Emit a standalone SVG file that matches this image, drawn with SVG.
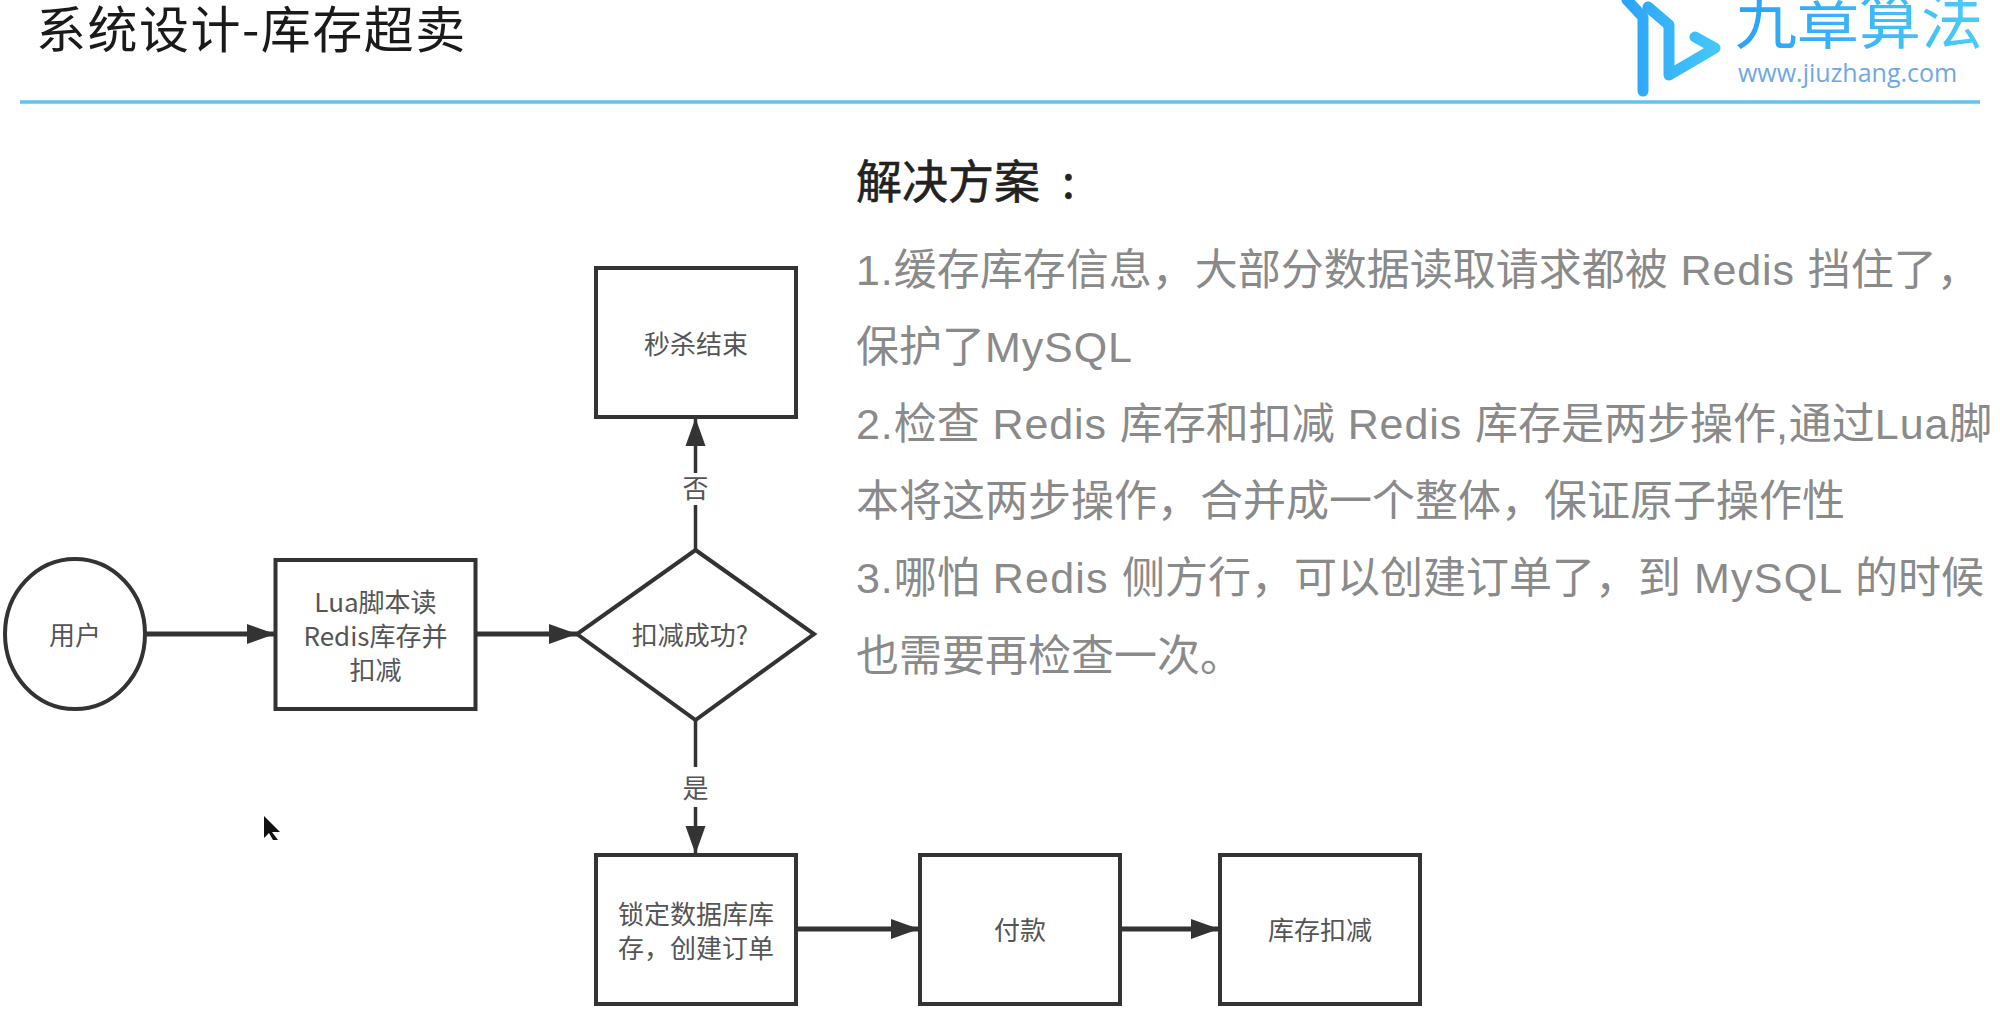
<svg xmlns="http://www.w3.org/2000/svg" width="2000" height="1025" viewBox="0 0 2000 1025">
<style>
.n{font-family:"Noto Sans CJK SC","Liberation Sans",sans-serif;font-size:26px;fill:#555;text-anchor:middle}
.b{fill:#fff;stroke:#333;stroke-width:4}
.h{fill:none;stroke:#333;stroke-width:5}
.v{fill:none;stroke:#333;stroke-width:3.500}
.t{font-family:"Liberation Sans","Noto Sans CJK SC",sans-serif;font-size:43px;fill:#8a8a8a;letter-spacing:0}
.l{letter-spacing:.9px}
.m{letter-spacing:1.200px}
</style>
<defs>
<marker id="a" markerUnits="userSpaceOnUse" markerWidth="30" markerHeight="24" refX="28" refY="11" orient="auto"><path d="M0 1L28 11L0 21Z" fill="#333"/></marker>
<linearGradient id="g" x1="0" y1="0" x2="1" y2="0"><stop offset="0" stop-color="#2aa2f8"/><stop offset="1" stop-color="#4cccf6"/></linearGradient>
<linearGradient id="g2" gradientUnits="userSpaceOnUse" x1="1620" y1="0" x2="1720" y2="0"><stop offset="0" stop-color="#2aa2f8"/><stop offset="1" stop-color="#45c8fa"/></linearGradient>
</defs>
<rect width="2000" height="1025" fill="#fff"/>
<g id="header">
<text x="36" y="48" font-family="'Noto Sans CJK SC',sans-serif" font-size="50" letter-spacing="1.500" fill="#1a1a1a">系统设计-库存超卖</text>
<line x1="20" y1="102" x2="1980" y2="102" stroke="#5cc6f2" stroke-width="3.500"/>
<path d="M1627 0L1643 17V91" fill="none" stroke="url(#g2)" stroke-width="11" stroke-linecap="round" stroke-linejoin="round"/>
<path d="M1648 7L1669 25V75L1715 48L1695 37" fill="none" stroke="url(#g2)" stroke-width="11" stroke-linecap="round" stroke-linejoin="round"/>
<text x="1735" y="44" font-family="'Noto Sans CJK SC',sans-serif" font-size="62" fill="url(#g)">九章算法</text>
<text x="1738" y="82" font-family="'Open Sans',sans-serif" font-size="25" fill="#6fa8e6">www.jiuzhang.com</text>
</g>
<g id="connectors">
<line class="h" x1="145" y1="634" x2="275" y2="634" marker-end="url(#a)"/>
<line class="h" x1="476" y1="634" x2="577" y2="634" marker-end="url(#a)"/>
<line class="v" x1="695.500" y1="550" x2="695.500" y2="505"/>
<line class="v" x1="695.500" y1="473" x2="695.500" y2="418" marker-end="url(#a)"/>
<line class="v" x1="695.500" y1="720" x2="695.500" y2="767"/>
<line class="v" x1="695.500" y1="807" x2="695.500" y2="854" marker-end="url(#a)"/>
<line class="h" x1="796" y1="929" x2="919" y2="929" marker-end="url(#a)"/>
<line class="h" x1="1120" y1="929" x2="1219" y2="929" marker-end="url(#a)"/>
<text class="n" x="695.500" y="498">否</text>
<text class="n" x="695.500" y="798">是</text>
</g>
<g id="user"><ellipse class="b" cx="75" cy="634" rx="70" ry="75"/><text class="n" x="75" y="645">用户</text></g>
<g id="lua"><rect class="b" x="275.500" y="560" width="200" height="149"/>
<text class="n" x="375.500" y="612">Lua脚本读</text><text class="n" x="375.500" y="646">Redis库存并</text><text class="n" x="375.500" y="680">扣减</text></g>
<g id="decision"><path class="b" d="M695.500 550L814 634L695.500 720L577 634Z"/><text class="n" x="690" y="645">扣减成功?</text></g>
<g id="end"><rect class="b" x="596" y="268" width="200" height="149"/><text class="n" x="696" y="354">秒杀结束</text></g>
<g id="lock"><rect class="b" x="596" y="855" width="200" height="149"/>
<text class="n" x="696" y="924">锁定数据库库</text><text class="n" x="696" y="958">存，创建订单</text></g>
<g id="pay"><rect class="b" x="920" y="855" width="200" height="149"/><text class="n" x="1020" y="940">付款</text></g>
<g id="deduct"><rect class="b" x="1220" y="855" width="200" height="149"/><text class="n" x="1320" y="940">库存扣减</text></g>
<g id="solution">
<text x="856" y="198" font-family="'Noto Sans CJK SC',sans-serif" font-size="46" stroke="#222" stroke-width=".6" fill="#222">解决方案<tspan dx="22">:</tspan></text>
<text class="t" x="856" y="285"><tspan class="l">1.</tspan>缓存库存信息，大部分数据读取请求都被<tspan class="l"> Redis </tspan>挡住了，</text>
<text class="t" x="856" y="362">保护了<tspan class="l">MySQL</tspan></text>
<text class="t" x="856" y="439"><tspan class="l">2.</tspan>检查<tspan class="l"> Redis </tspan>库存和扣减<tspan class="l"> Redis </tspan>库存是两步操作<tspan class="l">,</tspan>通过<tspan class="l">Lua</tspan>脚</text>
<text class="t" x="856" y="516">本将这两步操作，合并成一个整体，保证原子操作性</text>
<text class="t" x="856" y="593"><tspan class="l">3.</tspan>哪怕<tspan class="m"> Redis </tspan>侧方行，可以创建订单了，到<tspan class="m"> MySQL </tspan>的时候</text>
<text class="t" x="856" y="671">也需要再检查一次。</text>
</g>
<path id="cursor" d="M264 816L280 832L272 832L278 840L273 840L269 833L264 838Z" fill="#111"/>
</svg>
